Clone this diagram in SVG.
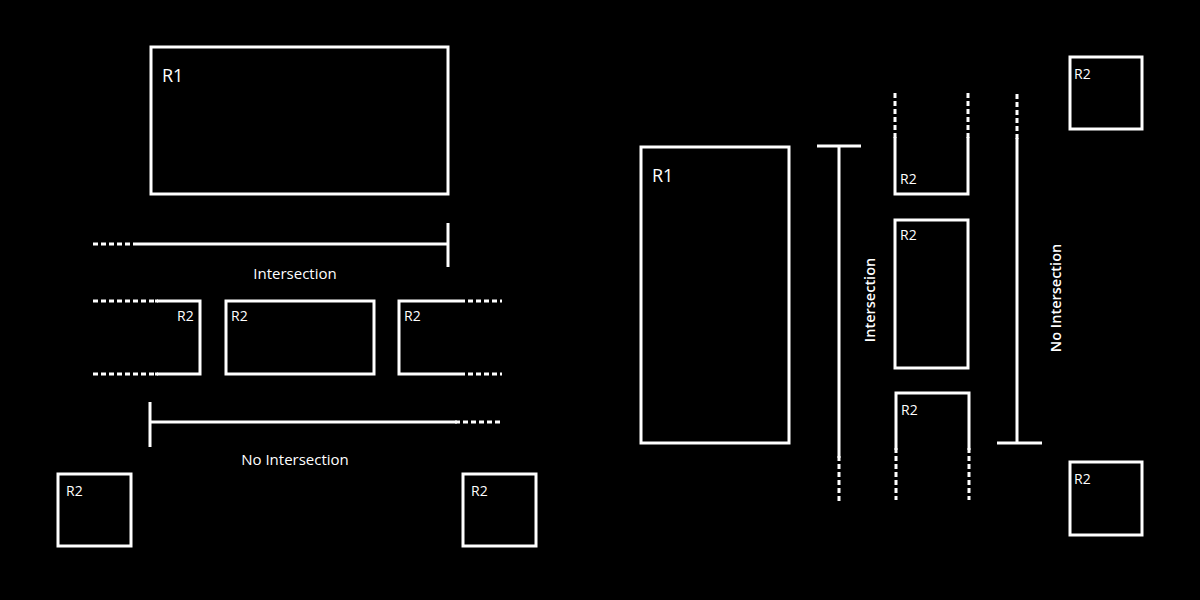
<svg xmlns="http://www.w3.org/2000/svg" width="1200" height="600" viewBox="0 0 1200 600">
<style>
.box{fill:none;stroke:#fff;stroke-width:3}
.ln{fill:none;stroke:#fff;stroke-width:3}
.dash{fill:none;stroke:#fff;stroke-width:3;stroke-dasharray:5 3}
text{font-family:"Open Sans","Noto Sans",sans-serif;fill:#fff}
.r1{font-size:18px}
.r2{font-size:14px}
.lbl{font-size:15px;text-anchor:middle}
.vlbl{font-size:14.5px;font-weight:600;text-anchor:middle}
</style>
<rect width="1200" height="600" fill="#000"/>

<!-- Left panel -->
<g id="left-r1"><rect class="box" x="151" y="47" width="297" height="147"/><text class="r1" x="162" y="82">R1</text></g>

<g id="left-r2-a">
<path class="ln" d="M155 301 H200 V374 H155"/>
<path class="dash" d="M93 301 H158 M93 374 H158"/>
<text class="r2" x="177" y="321">R2</text>
</g>
<g id="left-r2-b"><rect class="box" x="226" y="301" width="148" height="73"/><text class="r2" x="231" y="321">R2</text></g>
<g id="left-r2-c">
<path class="ln" d="M460 301 H399 V374 H460"/>
<path class="dash" d="M460 301 H502 M460 374 H502"/>
<text class="r2" x="404" y="321">R2</text>
</g>
<g id="left-r2-d"><rect class="box" x="58" y="474" width="73" height="72"/><text class="r2" x="66" y="496">R2</text></g>
<g id="left-r2-e"><rect class="box" x="463" y="474" width="73" height="72"/><text class="r2" x="471" y="496">R2</text></g>

<!-- Right panel -->
<g id="right-r1"><rect class="box" x="641" y="147" width="148" height="296"/><text class="r1" x="652" y="182">R1</text></g>
<g id="right-r2-a">
<path class="ln" d="M895 137 V194 H968 V137"/>
<path class="dash" d="M895 93 V140 M968 93 V140"/>
<text class="r2" x="900" y="184">R2</text>
</g>
<g id="right-r2-b"><rect class="box" x="895" y="220" width="73" height="148"/><text class="r2" x="900" y="240">R2</text></g>
<g id="right-r2-c">
<path class="ln" d="M896 450 V393 H969 V450"/>
<path class="dash" d="M896 448 V500 M969 448 V500"/>
<text class="r2" x="901" y="415">R2</text>
</g>
<g id="right-r2-d"><rect class="box" x="1070" y="57" width="72" height="72"/><text class="r2" x="1074" y="79">R2</text></g>
<g id="right-r2-e"><rect class="box" x="1070" y="462" width="72" height="73"/><text class="r2" x="1074" y="484">R2</text></g>

<g id="connectors">
<path class="dash" d="M93 244 H140"/>
<path class="ln" d="M138 244 H448 M448 223 V267"/>
<path class="ln" d="M150 402 V447 M150 422 H457"/>
<path class="dash" d="M455 422 H500"/>
<path class="ln" d="M817 146 H861 M839 146 V458"/>
<path class="dash" d="M839 456 V502"/>
<path class="dash" d="M1017 94 V140"/>
<path class="ln" d="M1017 138 V443 M997 443 H1042"/>
</g>

<g id="labels">
<text class="lbl" x="295" y="279">Intersection</text>
<text class="lbl" x="295" y="465">No Intersection</text>
<text class="vlbl" transform="translate(875 300) rotate(-90)">Intersection</text>
<text class="vlbl" transform="translate(1061 298) rotate(-90)">No Intersection</text>
</g>
</svg>
